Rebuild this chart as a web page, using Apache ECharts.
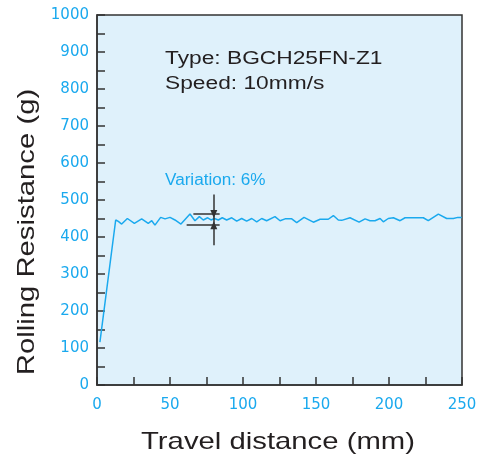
<!DOCTYPE html>
<html>
<head>
<meta charset="utf-8">
<script src="https://cdn.jsdelivr.net/npm/echarts@6/dist/echarts.min.js"></script>
<style>
  html, body { margin: 0; padding: 0; background: #ffffff; }
  #chart { width: 480px; height: 456px; }
</style>
</head>
<body>
<div id="chart"></div>
<script>
// Travel distance (mm) and measured rolling resistance (g)
const distance = [2, 12.8, 14.6, 16.9, 20.8, 25.6, 30.6, 35.1, 37.5, 39.7, 43.6, 46.6, 50, 53.4, 57.5,
  63.7, 67.1, 70.1, 72.8, 75.8, 78.1, 80.4, 83.1, 85.8, 88.8, 92.3, 95.7, 99.1, 102.5, 106, 109.4,
  112.8, 116.2, 121.9, 125.4, 128.8, 133.4, 136.8, 141.8, 148.2, 152.8, 158.4, 161.9, 165.3, 167.6,
  173.3, 179.5, 183.6, 187, 190.4, 193.9, 196.1, 199.5, 203, 207.6, 211, 223.5, 226.9, 233.8, 239.5,
  244.1, 247.1, 249.8];
const resistance = [116, 446, 442, 435, 450, 437, 449, 437, 444, 432, 453, 449, 453, 446, 435,
  462, 444, 455, 446, 452, 446, 450, 446, 452, 446, 452, 443, 450, 443, 450, 441,
  450, 444, 455, 444, 449, 449, 439, 453, 440, 448, 448, 458, 446, 445,
  452, 440, 449, 444, 444, 450, 441, 450, 452, 444, 452, 452, 444, 462, 450,
  450, 453, 453];

// Variation band (upper / lower limits) and where the marker sits
const variationHigh = 462;
const variationLow = 432;
const upperSpan = [66, 84];
const lowerSpan = [61.4, 84];
const markerX = 80;
const markerTop = 515;
const markerBottom = 378;

const yTickLabels = [0, 100, 200, 300, 400, 500, 600, 700, 800, 900, 1000];
const xTickLabels = [0, 50, 100, 150, 200, 250];

const blue = '#1aa9ee';
const dark = '#231f20';
const frame = '#333333';
const font = '"Liberation Sans", Arial, Helvetica, sans-serif';
const tickFont = '"DejaVu Sans", sans-serif';

const chart = echarts.init(document.getElementById('chart'));

const points = distance.map((d, i) => [d, resistance[i]]);

// wide-tracked captions, stretched along the reading direction
function caption(text, x, y, size, stretch, color, align, extra) {
  return Object.assign({
    type: 'text', x: x, y: y, scaleX: stretch, silent: true,
    style: {
      text: text, fill: color, fontSize: size, fontFamily: font,
      textAlign: align, textVerticalAlign: 'middle'
    }
  }, extra || {});
}

chart.setOption({
  animation: false,
  grid: {
    left: 97, right: 18, top: 15, bottom: 71,
    show: true,
    backgroundColor: '#dff1fb',
    borderColor: frame,
    borderWidth: 1.5
  },
  xAxis: {
    type: 'value',
    min: 0, max: 250, interval: 25,
    axisLine: { show: true, onZero: false, lineStyle: { color: frame, width: 1.5 } },
    axisTick: { show: true, inside: true, length: 8, lineStyle: { color: frame, width: 1.5 } },
    splitLine: { show: false },
    axisLabel: {
      color: blue, fontSize: 15, fontFamily: tickFont, margin: 13,
      formatter: v => (xTickLabels.includes(v) ? String(v) : '')
    }
  },
  yAxis: {
    type: 'value',
    min: 0, max: 1000, interval: 50,
    axisLine: { show: true, lineStyle: { color: frame, width: 1.5 } },
    axisTick: { show: true, inside: true, length: 8, lineStyle: { color: frame, width: 1.5 } },
    splitLine: { show: false },
    axisLabel: {
      color: blue, fontSize: 15, fontFamily: tickFont, margin: 8,
      formatter: v => (yTickLabels.includes(v) ? String(v) : '')
    }
  },
  series: [{
    type: 'line',
    data: points,
    showSymbol: false,
    lineStyle: { color: blue, width: 1.5 },
    markLine: {
      silent: true,
      symbol: ['none', 'none'],
      label: { show: false },
      lineStyle: { color: frame, width: 1.5, type: 'solid' },
      data: [
        [{ coord: [upperSpan[0], variationHigh] }, { coord: [upperSpan[1], variationHigh] }],
        [{ coord: [lowerSpan[0], variationLow] }, { coord: [lowerSpan[1], variationLow] }],
        [{ coord: [markerX, variationHigh] }, { coord: [markerX, variationLow] }],
        [{ coord: [markerX, markerTop], symbol: 'none' },
         { coord: [markerX, variationHigh], symbol: 'triangle', symbolSize: [7, 8], symbolRotate: 180 }],
        [{ coord: [markerX, markerBottom], symbol: 'none' },
         { coord: [markerX, variationLow], symbol: 'triangle', symbolSize: [7, 8], symbolRotate: 0 }]
      ]
    }
  }],
  graphic: [
    caption('Type: BGCH25FN-Z1', 165, 59, 17.5, 1.3, dark, 'left'),
    caption('Speed: 10mm/s', 165, 84, 17.5, 1.3, dark, 'left'),
    caption('Variation: 6%', 165, 181, 16, 1.07, blue, 'left'),
    caption('Travel distance (mm)', 278, 442, 24, 1.22, dark, 'center'),
    caption('Rolling Resistance (g)', 27, 232, 24, 1.22, dark, 'center', { rotation: Math.PI / 2 })
  ]
});
</script>
</body>
</html>
